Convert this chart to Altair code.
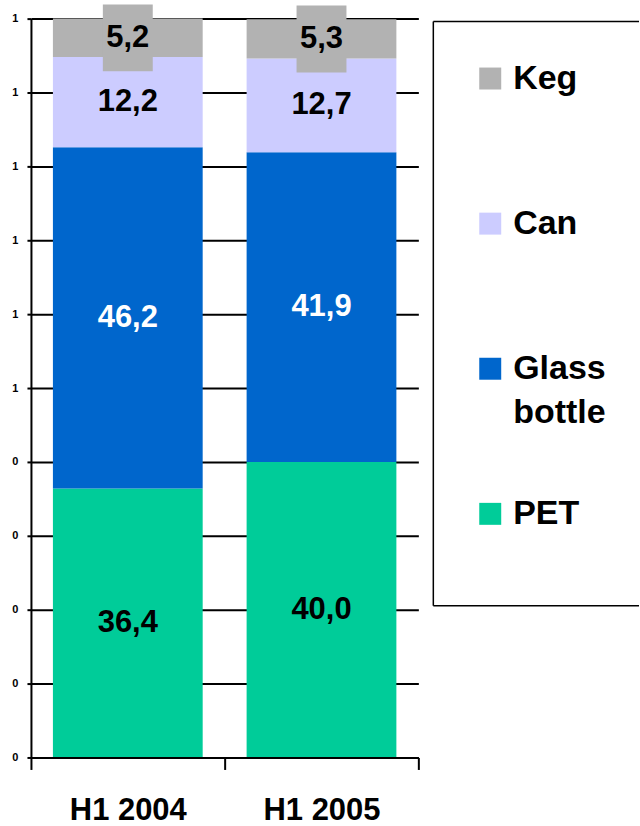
import altair as alt
import pandas as pd

# Packaging mix of beer sales, % share by half-year
periods = ["H1 2004", "H1 2005"]
packages = ["PET", "Glass bottle", "Can", "Keg"]          # stack order, bottom to top
share_2004 = [36.4, 46.2, 12.2, 5.2]
share_2005 = [40.0, 41.9, 12.7, 5.3]
package_colors = ["#00CC99", "#0066CC", "#CCCCFF", "#B2B2B2"]
value_text_colors = ["black", "white", "black", "black"]

legend_order = ["Keg", "Can", "Glass bottle", "PET"]
legend_line1 = ["Keg", "Can", "Glass", "PET"]
legend_line2 = ["", "", "bottle", ""]

y_tick_values = [0, 10, 20, 30, 40, 50, 60, 70, 80, 90, 100]

FONT = "Liberation Sans, Arial, Helvetica, sans-serif"
NO_FRAME = alt.ViewBackground(strokeWidth=0, strokeOpacity=0)

rows = []
for period, shares in zip(periods, [share_2004, share_2005]):
    base = 0.0
    for i, (pkg, v) in enumerate(zip(packages, shares)):
        rows.append({
            "period": period,
            "package": pkg,
            "order": i,
            "share": v,
            "y0": base,
            "y1": base + v,
            "mid": base + v / 2,
            "label": f"{v:.1f}".replace(".", ","),
            "text_color": value_text_colors[i],
        })
        base += v
df = pd.DataFrame(rows)

color_scale = alt.Scale(domain=packages, range=package_colors)
x_enc = alt.X(
    "period:N",
    sort=periods,
    scale=alt.Scale(paddingInner=0, paddingOuter=0),
    axis=alt.Axis(
        title=None, labelAngle=0, tickBand="extent", tickSize=12, tickWidth=2,
        tickColor="black", domainColor="black", domainWidth=2,
        labelFont=FONT, labelFontSize=31, labelFontWeight="bold",
        labelColor="black", labelPadding=26, zindex=1, grid=False,
    ),
)
y_scale = alt.Scale(domain=[0, 100], nice=False, zero=True)

bars = alt.Chart(df).mark_bar(size=150).encode(
    x=x_enc,
    y=alt.Y(
        "y0:Q",
        scale=y_scale,
        axis=alt.Axis(
            title=None, values=y_tick_values,
            labelExpr="format(datum.value / 100, '.0f')",
            tickSize=4, tickWidth=2, tickColor="black",
            domainColor="black", domainWidth=2,
            grid=True, gridColor="black", gridWidth=2,
            labelFont=FONT, labelFontSize=11, labelFontWeight="bold",
            labelColor="black", labelPadding=9,
        ),
    ),
    y2="y1:Q",
    color=alt.Color("package:N", scale=color_scale, legend=None),
)

# background box behind the keg value label
label_box = alt.Chart(df).transform_filter(alt.datum.package == "Keg").mark_point(
    shape="M-0.746,-1H0.746V1H-0.746Z", size=67 * 67, filled=True,
    opacity=1, strokeWidth=0,
).encode(
    x=alt.X("period:N", sort=periods),
    y=alt.Y("mid:Q", scale=y_scale),
    color=alt.Color("package:N", scale=color_scale, legend=None),
)

value_labels = alt.Chart(df).mark_text(
    font=FONT, fontSize=31, fontWeight="bold", baseline="middle", align="center",
).encode(
    x=alt.X("period:N", sort=periods),
    y=alt.Y("mid:Q", scale=y_scale),
    text="label:N",
    color=alt.Color("text_color:N", scale=None),
)

main = alt.layer(bars, label_box, value_labels).properties(
    width=388, height=740, view=NO_FRAME)

# legend panel
leg = pd.DataFrame({
    "package": legend_order,
    "line1": legend_line1,
    "line2": legend_line2,
})
leg_y = alt.Y("package:N", sort=legend_order,
              scale=alt.Scale(domain=legend_order, range=[60, 496], padding=0),
              axis=None)

# open-ended frame: top, left and bottom edges
one = pd.DataFrame({"f": [0]})
frame_top = alt.Chart(one).mark_rule(color="black", strokeWidth=1.5).encode(
    x=alt.value(1), x2=alt.value(207), y=alt.value(3))
frame_bottom = alt.Chart(one).mark_rule(color="black", strokeWidth=1.5).encode(
    x=alt.value(1), x2=alt.value(207), y=alt.value(588))
frame_left = alt.Chart(one).mark_rule(color="black", strokeWidth=1.5).encode(
    x=alt.value(1), y=alt.value(3), y2=alt.value(588))

swatches = alt.Chart(leg).mark_square(size=484, opacity=1, filled=True).encode(
    x=alt.value(58),
    y=leg_y,
    color=alt.Color("package:N", scale=color_scale, legend=None),
)

line1 = alt.Chart(leg).mark_text(
    font=FONT, fontSize=34, fontWeight="bold", align="left",
    baseline="middle", color="black",
).encode(x=alt.value(81), y=leg_y, text="line1:N")

line2 = alt.Chart(leg).mark_text(
    font=FONT, fontSize=34, fontWeight="bold", align="left",
    baseline="middle", color="black", dy=44,
).encode(x=alt.value(81), y=leg_y, text="line2:N")

legend_panel = alt.layer(
    frame_top, frame_bottom, frame_left, swatches, line1, line2
).properties(width=207, height=588, view=NO_FRAME)

chart = alt.hconcat(main, legend_panel, spacing=14, bounds="flush").properties(
    padding={"left": 11, "top": 3, "right": 0, "bottom": 0},
).configure_view(strokeWidth=0, strokeOpacity=0)

chart.save("out.html", embed_options={"renderer": "svg", "actions": False})
